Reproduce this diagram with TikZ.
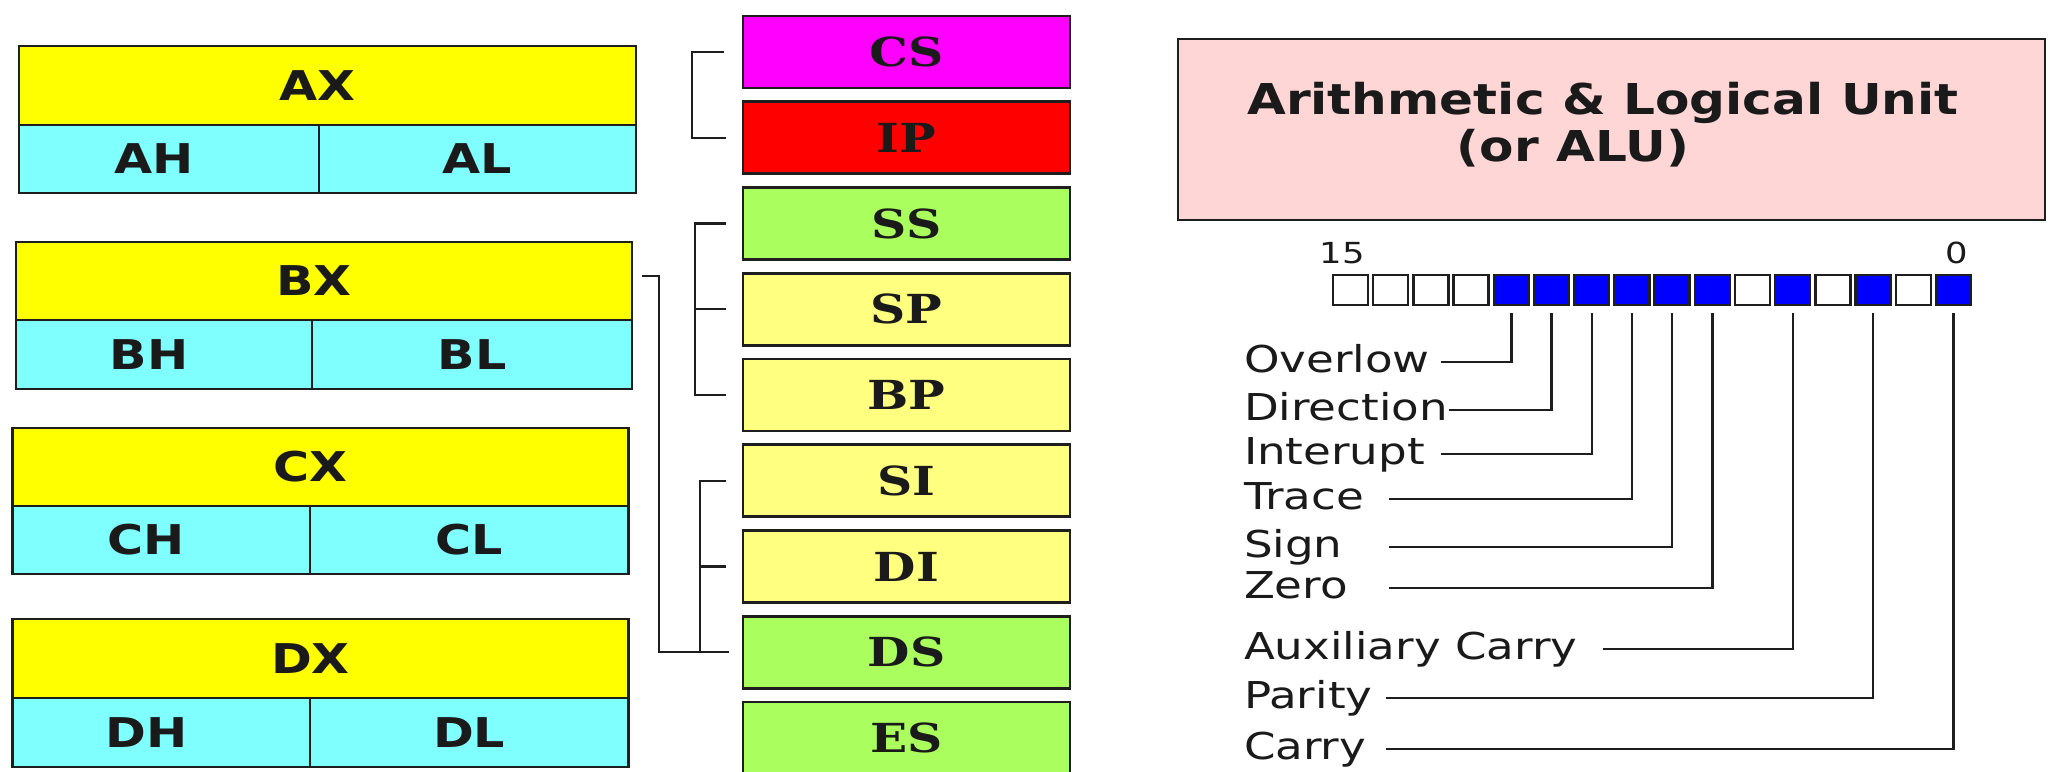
\documentclass[tikz,border=0pt]{standalone}
\usepackage{fontspec}
\usetikzlibrary{calc}
\newfontfamily\regfont[FakeStretch=1.2]{DejaVu Sans}
\newfontfamily\segfont[FakeStretch=1.22]{DejaVu Serif}
\newfontfamily\flagfont[FakeStretch=1.22]{DejaVu Sans}
\newfontfamily\alufont[FakeStretch=1.18]{DejaVu Sans}
\definecolor{regyellow}{HTML}{FFFF00}
\definecolor{regcyan}{HTML}{80FFFF}
\definecolor{segmagenta}{HTML}{FF00FF}
\definecolor{segred}{HTML}{FF0000}
\definecolor{seggreen}{HTML}{AAFF5F}
\definecolor{segpale}{HTML}{FFFF80}
\definecolor{alupink}{HTML}{FFD6D6}
\definecolor{flagblue}{HTML}{0000FF}
\definecolor{edge}{HTML}{1E1E1E}
\definecolor{ink}{HTML}{1A1A1A}
\begin{document}
\begin{tikzpicture}[x=0.5pt,y=-0.5pt,
  cell/.style={draw=edge, line width=1.4pt, rectangle, inner sep=0pt, outer sep=0pt, text=ink},
  wide/.style={cell, fill=regyellow, font=\regfont\bfseries\fontsize{20.5}{24}\selectfont},
  half/.style={cell, fill=regcyan, font=\regfont\bfseries\fontsize{20.5}{24}\selectfont},
  seg/.style={cell, minimum width=163.5pt, minimum height=36pt, font=\segfont\bfseries\fontsize{20}{24}\selectfont},
  bit/.style={cell, line width=1.2pt, minimum width=17.5pt, minimum height=15pt},
  flag/.style={inner sep=0pt, outer sep=0pt, anchor=west, text=ink, text height=10pt, text depth=0pt, font=\flagfont\fontsize{18.5}{22}\selectfont},
  num/.style={inner sep=0pt, anchor=base, text=ink, font=\flagfont\fontsize{14.5}{17}\selectfont},
  alutext/.style={inner sep=0pt, anchor=base, text=ink, font=\alufont\bfseries\fontsize{21.25}{25}\selectfont},
  link/.style={draw=edge, line width=1.2pt},
  lead/.style={draw=edge, line width=1.2pt}]

\useasboundingbox (0,0) rectangle (2048,771);
\fill[white] (0,0) rectangle (2048,771);

% general purpose registers: 16-bit word over its high and low bytes
\foreach \n/\l/\r/\d/\t/\m/\b in {A/19/636/319/46/125/193, B/16/632/312/242/320/389, C/12.5/628.5/310/428/506/574, D/12.5/628.5/310/619/698/767}{
  \pgfmathsetmacro\cx{(\l+\r)/2}
  \pgfmathsetmacro\cy{(\t+\m)/2}
  \pgfmathsetmacro\wx{(\r-\l)/2}
  \pgfmathsetmacro\hx{(\m-\t)/2}
  \node[wide, minimum width=\wx pt, minimum height=\hx pt] (\n X) at (\cx,\cy) {\n X\hspace*{10pt}};
  \pgfmathsetmacro\hy{(\m+\b)/2}
  \pgfmathsetmacro\hh{(\b-\m)/2}
  \pgfmathsetmacro\hcx{(\l+\d)/2}
  \pgfmathsetmacro\hw{(\d-\l)/2}
  \pgfmathsetmacro\lcx{(\d+\r)/2}
  \pgfmathsetmacro\lw{(\r-\d)/2}
  \node[half, minimum width=\hw pt, minimum height=\hh pt] (\n H) at (\hcx,\hy) {\n H\hspace*{15pt}};
  \node[half, minimum width=\lw pt, minimum height=\hh pt] (\n L) at (\lcx,\hy) {\n L};
}

% segment, pointer and index registers
\foreach \n/\c/\i in {CS/segmagenta/0, IP/segred/1, SS/seggreen/2, SP/segpale/3, BP/segpale/4, SI/segpale/5, DI/segpale/6, DS/seggreen/7, ES/seggreen/8}{
  \pgfmathsetmacro\cy{52+85.75*\i}
  \node[seg, fill=\c] (\n) at (906.5,\cy) {\n};
}

% pairings between registers
\draw[link] ($(CS.west)+(-19,0)$) -- ++(-32,0) |- ($(IP.west)+(-17,0)$);
\draw[link] ($(SS.west)+(-17,0)$) -- ++(-31,0) |- ($(BP.west)+(-17,0)$);
\draw[link] ($(SP.west)+(-17,0)$) -- ++(-31,0);
\draw[link] ($(SI.west)+(-17,0)$) -- ++(-26,0) |- ($(DS.west)+(-14,0)$);
\draw[link] ($(DI.west)+(-17,0)$) -- ++(-26,0);
\draw[link] ($(BX.east)+(10,-5)$) -- ++(17,0) |- ($(DS.west)+(-14,0)$);

% arithmetic and logical unit
\node[cell, fill=alupink, minimum width=433.5pt, minimum height=90.5pt] (alu) at (1611.5,129.5) {};
\node[alutext] (alu1) at (1603,114) {Arithmetic \& Logical Unit};
\node[alutext] (alu2) at (1573,161) {(or ALU)};

% flags register, bit 15 on the left
\foreach \k/\f in {15/white,14/white,13/white,12/white,11/flagblue,10/flagblue,9/flagblue,8/flagblue,7/flagblue,6/flagblue,5/white,4/flagblue,3/white,2/flagblue,1/white,0/flagblue}{
  \pgfmathsetmacro\bx{1350.5+40.2*(15-\k)}
  \node[bit, fill=\f] (b\k) at (\bx,290) {};
}
\node[num] (n15) at (1342,263) {15};
\node[num] (n0) at (1957,263) {0};

% flag names with their leader lines
\foreach \name/\ly/\sx/\k [count=\j] in {Overlow/362/1441/11, Direction/410/1449/10, Interupt/454/1441/9, Trace/499/1389/8, Sign/547/1389/7, Zero/588/1389/6, Auxiliary Carry/649/1603/4, Parity/698/1386/2, Carry/749/1386/0}{
  \node[flag] (f\j) at (1244,\ly) {\name};
  \coordinate (s\j) at (\sx,\ly);
  \draw[lead] (s\j) -| ($(b\k.south)+(0,8)$);
}
\end{tikzpicture}
\end{document}
